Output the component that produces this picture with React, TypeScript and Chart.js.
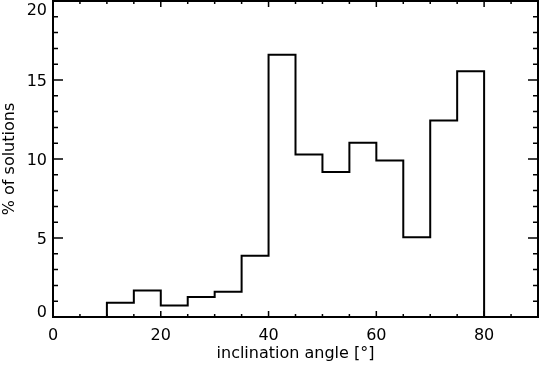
import React, { useEffect, useRef } from "react";
import { Chart, registerables } from "chart.js";

Chart.register(...registerables);

// Histogram bins (left edges, 5 deg wide) and percentage of solutions
const binStarts = [0, 5, 10, 15, 20, 25, 30, 35, 40, 45, 50, 55, 60, 65, 70, 75, 80, 85];
const binValues = [0, 0, 0.9, 1.68, 0.72, 1.27, 1.6, 3.88, 16.6, 10.28, 9.18, 11.03, 9.9, 5.04, 12.43, 15.55, 0, 0];
const binWidth = 5;

const xMajorTicks = [0, 20, 40, 60, 80];
const xMinorTicks = [5, 10, 15, 25, 30, 35, 45, 50, 55, 65, 70, 75, 85];
const yMajorTicks = [0, 5, 10, 15, 20];
const yMinorTicks = [1, 2, 3, 4, 6, 7, 8, 9, 11, 12, 13, 14, 16, 17, 18, 19];

const xTitle = "inclination angle [°]";
const yTitle = "% of solutions";

const FONT = '"DejaVu Sans", sans-serif';

const framePlugin = {
  id: "idlFrame",
  afterDraw(chart: any) {
    const ctx = chart.ctx as CanvasRenderingContext2D;
    const { left, right, top, bottom } = chart.chartArea;
    const xs = chart.scales.x;
    const ys = chart.scales.y;
    ctx.save();
    ctx.strokeStyle = "#000";
    ctx.fillStyle = "#000";
    // frame
    ctx.lineWidth = 2;
    ctx.strokeRect(left, top, right - left, bottom - top);
    // ticks
    ctx.lineWidth = 1.5;
    ctx.beginPath();
    const xTick = (v: number, len: number) => {
      const px = xs.getPixelForValue(v);
      ctx.moveTo(px, bottom);
      ctx.lineTo(px, bottom - len);
      ctx.moveTo(px, top);
      ctx.lineTo(px, top + len);
    };
    const yTick = (v: number, len: number) => {
      const py = ys.getPixelForValue(v);
      ctx.moveTo(left, py);
      ctx.lineTo(left + len, py);
      ctx.moveTo(right, py);
      ctx.lineTo(right - len, py);
    };
    xMajorTicks.forEach((v) => xTick(v, 6));
    xMinorTicks.forEach((v) => xTick(v, 3));
    yMajorTicks.forEach((v) => yTick(v, 10));
    yMinorTicks.forEach((v) => yTick(v, 5));
    ctx.stroke();

    // tick labels
    ctx.font = `16px ${FONT}`;
    ctx.textBaseline = "alphabetic";
    ctx.textAlign = "center";
    xMajorTicks.forEach((v) => {
      ctx.fillText(String(v), xs.getPixelForValue(v), bottom + 23);
    });
    ctx.textAlign = "right";
    yMajorTicks.forEach((v) => {
      const py = ys.getPixelForValue(v);
      const base = Math.min(bottom, Math.max(top + 14, py + 6));
      ctx.fillText(String(v), left - 6, base);
    });

    // titles
    ctx.textAlign = "center";
    ctx.fillText(xTitle, (left + right) / 2, bottom + 41);
    ctx.save();
    ctx.translate(14, (top + bottom) / 2);
    ctx.rotate(-Math.PI / 2);
    ctx.fillText(yTitle, 0, 0);
    ctx.restore();
    ctx.restore();
  },
};

export default function App() {
  const canvasRef = useRef<HTMLCanvasElement | null>(null);

  useEffect(() => {
    if (!canvasRef.current) return;
    const points = binStarts.map((x, i) => ({ x, y: binValues[i] }));
    points.push({
      x: binStarts[binStarts.length - 1] + binWidth,
      y: binValues[binValues.length - 1],
    });
    const chart = new Chart(canvasRef.current, {
      type: "line",
      data: {
        datasets: [
          {
            data: points,
            borderColor: "#000",
            borderWidth: 2,
            pointRadius: 0,
            fill: false,
            stepped: "before",
          },
        ],
      },
      options: {
        animation: false,
        responsive: true,
        maintainAspectRatio: false,
        layout: { padding: { left: 53, top: 1, right: 1, bottom: 48 } },
        plugins: { legend: { display: false }, tooltip: { enabled: false } },
        scales: {
          x: { type: "linear", min: 0, max: 90, display: false },
          y: { type: "linear", min: 0, max: 20, display: false },
        },
      },
      plugins: [framePlugin],
    } as any);
    return () => chart.destroy();
  }, []);

  return (
    <div
      style={{
        position: "absolute",
        left: 0,
        top: 0,
        width: 539,
        height: 365,
        background: "#fff",
      }}
    >
      <canvas ref={canvasRef} />
    </div>
  );
}
